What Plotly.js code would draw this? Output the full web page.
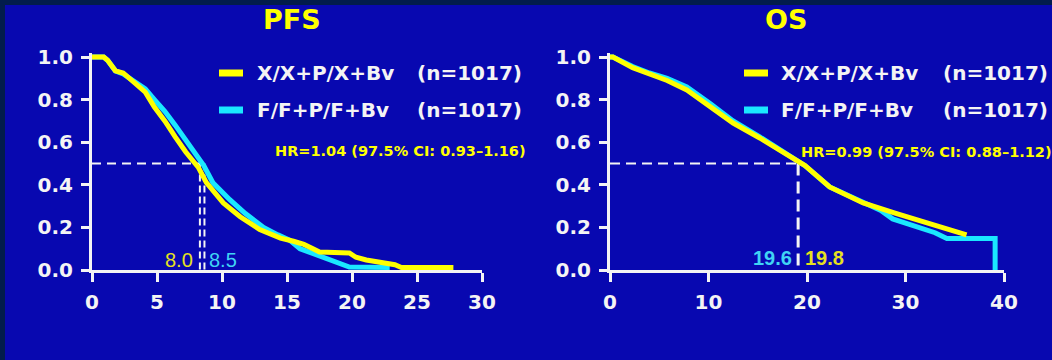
<!DOCTYPE html>
<html><head><meta charset="utf-8">
<script src="https://cdn.plot.ly/plotly-3.0.1.min.js"></script>
<style>
html,body{margin:0;padding:0;background:#021c4c;width:1052px;height:360px;overflow:hidden}
#chart{position:absolute;left:5px;top:5px;width:1047px;height:355px}
</style></head><body><div id="chart"></div>
<script>
// ---- data ----
const panelTitles = ['PFS', 'OS'];
const seriesNames = ['X/X+P/X+Bv', 'F/F+P/F+Bv'];
const seriesN = ['(n=1017)', '(n=1017)'];
const hrTexts = ['HR=1.04 (97.5% CI: 0.93\u20131.16)', 'HR=0.99 (97.5% CI: 0.88\u20131.12)'];

const pfsTimeX = [0, 0.9, 1.2, 1.5, 1.8, 2.4, 2.8, 3.3, 4.1, 4.8, 5.6, 6.4, 7.2, 8.2, 8.8, 10.1, 11.4, 12.9, 14.5, 15.5, 16.3, 17.0, 17.5, 19.8, 20.3, 21.1, 22.7, 23.3, 23.8, 27.8];
const pfsSurvX = [1.0, 1.0, 0.985, 0.96, 0.935, 0.925, 0.905, 0.88, 0.835, 0.765, 0.70, 0.625, 0.555, 0.48, 0.41, 0.315, 0.25, 0.19, 0.15, 0.135, 0.12, 0.10, 0.085, 0.08, 0.06, 0.047, 0.033, 0.025, 0.012, 0.012];
const pfsTimeF = [0, 0.9, 1.2, 1.5, 1.8, 2.4, 2.8, 3.3, 4.1, 4.8, 5.6, 6.4, 7.2, 8.0, 8.6, 9.3, 10.6, 11.8, 13.2, 14.3, 15.2, 16.0, 17.3, 18.0, 18.8, 19.8, 22.9];
const pfsSurvF = [1.0, 1.0, 0.985, 0.96, 0.935, 0.92, 0.905, 0.885, 0.85, 0.80, 0.745, 0.68, 0.61, 0.545, 0.49, 0.41, 0.33, 0.265, 0.20, 0.165, 0.14, 0.10, 0.07, 0.05, 0.033, 0.014, 0.012];

const osTimeX = [0, 0.3, 2.3, 4.0, 5.8, 7.8, 10.2, 12.5, 15.2, 18.0, 19.8, 22.3, 25.7, 29.1, 32.5, 34.5, 36.2];
const osSurvX = [1.0, 1.0, 0.95, 0.92, 0.89, 0.845, 0.765, 0.69, 0.62, 0.54, 0.49, 0.39, 0.315, 0.265, 0.215, 0.19, 0.165];
const osTimeF = [0, 0.3, 2.3, 4.0, 5.8, 7.8, 10.2, 12.5, 15.2, 18.0, 19.8, 22.3, 25.7, 27.5, 28.7, 30.0, 31.5, 33.0, 34.2, 34.5, 39.1, 39.1];
const osSurvF = [1.0, 1.0, 0.955, 0.925, 0.90, 0.86, 0.78, 0.70, 0.625, 0.545, 0.49, 0.39, 0.315, 0.28, 0.24, 0.22, 0.20, 0.175, 0.148, 0.148, 0.148, 0.0];

const pfsMedianLabels = ['8.0', '8.5'];
const osMedianLabels = ['19.6', '19.8'];
const pfsDashX = [8.3, 8.65];   // vertical dashed median markers (as drawn)
const osDashX = [19.1];
const medianLevel = 0.5;

const pfsXTicks = [0, 5, 10, 15, 20, 25, 30];
const osXTicks = [0, 10, 20, 30, 40];
const yTicks = [0, 0.2, 0.4, 0.6, 0.8, 1.0];
const yTickText = ['0.0', '0.2', '0.4', '0.6', '0.8', '1.0'];

// ---- styling ----
const BG = '#0808b0', YEL = '#ffff00', CYN = '#1ae8ff', WHITE = '#f4f4f4';
const W = 1047, H = 355;
const px = x => (x - 5) / W;
const py = y => 1 - (y - 5) / H;
const boldDV = (size, color) => ({family: 'DejaVu Sans', size: size, color: color, weight: 'bold'});

function curve(x, y, color, xa, ya) {
  return {x: x, y: y, type: 'scatter', mode: 'lines', xaxis: xa, yaxis: ya,
    line: {color: color, width: 5, shape: 'linear'}, hoverinfo: 'skip', showlegend: false};
}
function dashLine(x, y, w, dash, xa, ya) {
  return {x: x, y: y, type: 'scatter', mode: 'lines', xaxis: xa, yaxis: ya,
    line: {color: WHITE, width: w, dash: dash}, hoverinfo: 'skip', showlegend: false};
}

const traces = [
  dashLine([0, pfsDashX[0]], [medianLevel, medianLevel], 2, '9px,6px', 'x', 'y'),
  dashLine([pfsDashX[0], pfsDashX[0]], [medianLevel, 0], 2, '7px,4px', 'x', 'y'),
  dashLine([pfsDashX[1], pfsDashX[1]], [medianLevel, 0], 2, '7px,4px', 'x', 'y'),
  curve(pfsTimeF, pfsSurvF, CYN, 'x', 'y'),
  curve(pfsTimeX, pfsSurvX, YEL, 'x', 'y'),
  dashLine([0, osDashX[0]], [medianLevel, medianLevel], 2, '10px,6px', 'x2', 'y2'),
  dashLine([osDashX[0], osDashX[0]], [medianLevel, 0], 3, '12px,6px', 'x2', 'y2'),
  curve(osTimeF, osSurvF, CYN, 'x2', 'y2'),
  curve(osTimeX, osSurvX, YEL, 'x2', 'y2')
];

function xAxis(domain, range, ticks, anchor) {
  return {domain: domain, range: range, anchor: anchor, tickvals: ticks, ticktext: ticks.map(String),
    showline: true, linecolor: WHITE, linewidth: 3, ticks: 'outside', ticklen: 9, tickwidth: 3,
    tickcolor: WHITE, showgrid: false, zeroline: false, fixedrange: true, ticklabelstandoff: 3,
    tickfont: boldDV(20, WHITE)};
}
function yAxis(domain, anchor) {
  return {domain: domain, range: [0, 1.02], anchor: anchor, tickvals: yTicks, ticktext: yTickText,
    showline: true, linecolor: WHITE, linewidth: 3, ticks: 'outside', ticklen: 8, tickwidth: 3,
    tickcolor: WHITE, showgrid: false, zeroline: false, fixedrange: true, ticklabelstandoff: 4,
    tickfont: boldDV(20, WHITE)};
}
const yDom = [0.2535, 0.8655];

const ann = [];
const shapes = [];
// titles
ann.push({text: panelTitles[0], x: px(292), y: py(20), xref: 'paper', yref: 'paper', showarrow: false,
  xanchor: 'center', yanchor: 'middle', font: boldDV(27, YEL)});
ann.push({text: panelTitles[1], x: px(786), y: py(20), xref: 'paper', yref: 'paper', showarrow: false,
  xanchor: 'center', yanchor: 'middle', font: boldDV(27, YEL)});

// legends
const legendCfg = [
  {lineX: [219, 243], textX: 255, nX: 415, hrX: 273, hrY: 151},
  {lineX: [744, 768], textX: 779, nX: 941, hrX: 799, hrY: 152}
];
const rowsY = [73, 110];
const colors = [YEL, CYN];
legendCfg.forEach((c, p) => {
  rowsY.forEach((ry, i) => {
    shapes.push({type: 'line', xref: 'paper', yref: 'paper', x0: px(c.lineX[0]), x1: px(c.lineX[1]),
      y0: py(ry), y1: py(ry), line: {color: colors[i], width: 7}});
    ann.push({text: seriesNames[i], x: px(c.textX), y: py(ry), xref: 'paper', yref: 'paper', showarrow: false,
      xanchor: 'left', yanchor: 'middle', font: boldDV(20, WHITE)});
    ann.push({text: seriesN[i], x: px(c.nX), y: py(ry), xref: 'paper', yref: 'paper', showarrow: false,
      xanchor: 'left', yanchor: 'middle', font: boldDV(20, WHITE)});
  });
  ann.push({text: hrTexts[p], x: px(c.hrX), y: py(c.hrY), xref: 'paper', yref: 'paper', showarrow: false,
    xanchor: 'left', yanchor: 'middle', font: boldDV(14.5, YEL)});
});

// median labels
ann.push({text: pfsMedianLabels[0], x: px(195), y: py(260), xref: 'paper', yref: 'paper', showarrow: false,
  xanchor: 'right', yanchor: 'middle', font: {family: 'Liberation Sans', size: 20, color: '#e6e020'}});
ann.push({text: pfsMedianLabels[1], x: px(207), y: py(260), xref: 'paper', yref: 'paper', showarrow: false,
  xanchor: 'left', yanchor: 'middle', font: {family: 'Liberation Sans', size: 20, color: '#40d4f4'}});
ann.push({text: osMedianLabels[0], x: px(794), y: py(258), xref: 'paper', yref: 'paper', showarrow: false,
  xanchor: 'right', yanchor: 'middle', font: {family: 'Liberation Sans', size: 20, color: '#40d4f4', weight: 'bold'}});
ann.push({text: osMedianLabels[1], x: px(803), y: py(258), xref: 'paper', yref: 'paper', showarrow: false,
  xanchor: 'left', yanchor: 'middle', font: {family: 'Liberation Sans', size: 20, color: '#e6e020', weight: 'bold'}});

const layout = {
  width: W, height: H, margin: {l: 0, r: 0, t: 0, b: 0},
  paper_bgcolor: BG, plot_bgcolor: 'rgba(0,0,0,0)', showlegend: false,
  xaxis: xAxis([87 / W, 477 / W], [0, 30], pfsXTicks, 'y'),
  yaxis: yAxis(yDom, 'x'),
  xaxis2: xAxis([605 / W, 999 / W], [0, 40], osXTicks, 'y2'),
  yaxis2: yAxis(yDom, 'x2'),
  annotations: ann, shapes: shapes
};
Plotly.newPlot('chart', traces, layout, {displayModeBar: false, staticPlot: true});
</script></body></html>
